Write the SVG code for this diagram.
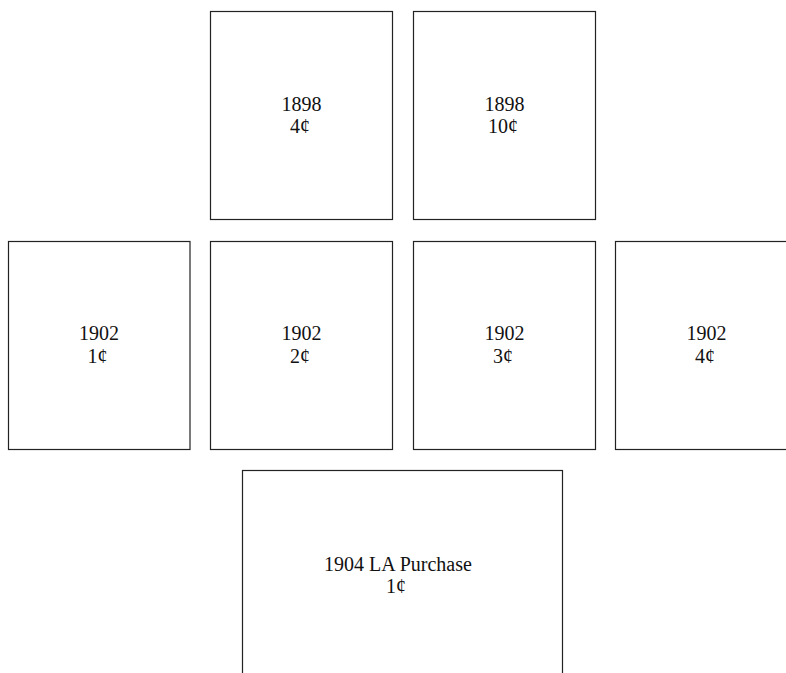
<svg xmlns="http://www.w3.org/2000/svg" width="786" height="673" viewBox="0 0 786 673">
<style>
.box{fill:#fff;stroke:#222;stroke-width:1.2}
.t{font-family:"Liberation Serif","Times New Roman",serif;font-size:20px;fill:#111;text-anchor:middle}
</style>
<rect width="786" height="673" fill="#fff"/>
<g id="n1898-4"><rect class="box" x="210.5" y="11.5" width="182" height="208"/><text class="t" x="301.5" y="111">1898</text><text class="t" x="300" y="133">4¢</text></g>
<g id="n1898-10"><rect class="box" x="413.5" y="11.5" width="182" height="208"/><text class="t" x="504.5" y="111">1898</text><text class="t" x="503" y="133">10¢</text></g>
<g id="n1902-1"><rect class="box" x="8.5" y="241.5" width="181.5" height="208"/><text class="t" x="99" y="340">1902</text><text class="t" x="97.5" y="363">1¢</text></g>
<g id="n1902-2"><rect class="box" x="210.5" y="241.5" width="182" height="208"/><text class="t" x="301.5" y="340">1902</text><text class="t" x="300" y="363">2¢</text></g>
<g id="n1902-3"><rect class="box" x="413.5" y="241.5" width="182" height="208"/><text class="t" x="504.5" y="340">1902</text><text class="t" x="503" y="363">3¢</text></g>
<g id="n1902-4"><rect class="box" x="615.5" y="241.5" width="182" height="208"/><text class="t" x="706.5" y="340">1902</text><text class="t" x="705" y="363">4¢</text></g>
<g id="n1904-1"><rect class="box" x="242.5" y="470.5" width="320" height="260"/><text class="t" x="398" y="571">1904 LA Purchase</text><text class="t" x="396" y="593">1¢</text></g>
<g id="connectors"></g>
</svg>
